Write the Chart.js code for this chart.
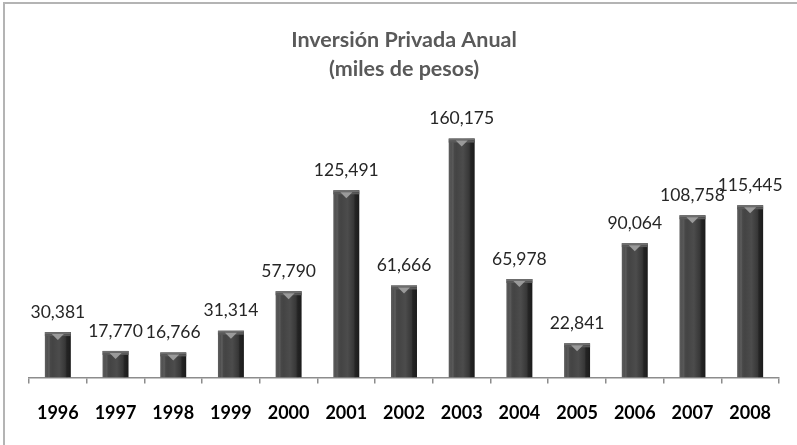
<!DOCTYPE html>
<html>
<head>
<meta charset="utf-8">
<script src="https://cdn.jsdelivr.net/npm/chart.js@4"></script>
<style>
    html, body { margin: 0; padding: 0; background: #fff; }
    #wrap { position: relative; width: 797px; height: 445px; overflow: hidden; }
    #frame {
        position: absolute; left: 3px; top: 2px; right: -10px; bottom: -10px;
        border-left: 2px solid #b4b4b4; border-top: 2px solid #b4b4b4;
    }
    canvas { position: absolute; left: 0; top: 0; }
</style>
</head>
<body>
<div id="wrap">
    <div id="frame"></div>
    <canvas id="chart" width="797" height="445"></canvas>
</div>
<script>
// Chart data
const years = ["1996", "1997", "1998", "1999", "2000", "2001", "2002", "2003", "2004", "2005", "2006", "2007", "2008"];
const investment = [30381, 17770, 16766, 31314, 57790, 125491, 61666, 160175, 65978, 22841, 90064, 108758, 115445];
const titleLines = ["Inversión Privada Anual", "(miles de pesos)"];

const BAR_PCT = 0.45;

// Horizontal gradient to give the bars a rounded look
function barGradient(context) {
    const { chart } = context;
    const xs = chart.scales && chart.scales.x;
    if (!chart.chartArea || !xs) return "#444";
    const cx = xs.getPixelForValue(context.dataIndex);
    const half = (xs.width / years.length) * BAR_PCT / 2;
    if (!Number.isFinite(cx) || !Number.isFinite(half)) return "#444";
    const g = chart.ctx.createLinearGradient(cx - half, 0, cx + half, 0);
    g.addColorStop(0, "#5e5e5e");
    g.addColorStop(0.15, "#4a4a4a");
    g.addColorStop(0.3, "#444444");
    g.addColorStop(0.55, "#4c4c4c");
    g.addColorStop(0.8, "#363636");
    g.addColorStop(0.9, "#222222");
    g.addColorStop(1, "#1a1a1a");
    return g;
}

// Bevel on top of bars plus value labels
const barDecor = {
    id: "barDecor",
    afterDatasetsDraw(chart) {
        const ctx = chart.ctx;
        const meta = chart.getDatasetMeta(0);
        ctx.save();
        meta.data.forEach((bar, i) => {
            const left = bar.x - bar.width / 2;
            const right = bar.x + bar.width / 2;
            // top bevel band
            ctx.fillStyle = "#6e6e6e";
            ctx.fillRect(left, bar.y, bar.width, 2);
            ctx.fillStyle = "#5a5a5a";
            ctx.fillRect(left, bar.y + 2, bar.width, 2);
            // small light triangle
            ctx.fillStyle = "#9a9a9a";
            ctx.beginPath();
            ctx.moveTo(bar.x - 6, bar.y + 2);
            ctx.lineTo(bar.x + 6, bar.y + 2);
            ctx.lineTo(bar.x, bar.y + 8);
            ctx.closePath();
            ctx.fill();
            // inner edge highlights
            ctx.fillStyle = "rgba(255,255,255,0.08)";
            ctx.fillRect(left + 3, bar.y + 4, 2, bar.base - bar.y - 4);
            ctx.fillStyle = "rgba(0,0,0,0.15)";
            ctx.fillRect(right - 5, bar.y + 4, 2, bar.base - bar.y - 4);

            // value label
            ctx.fillStyle = "#262626";
            ctx.font = "17.5px Lato";
            ctx.textAlign = "center";
            ctx.textBaseline = "middle";
            ctx.fillText(investment[i].toLocaleString("en-US"), bar.x, bar.y - 20);
        });
        ctx.restore();
    }
};

new Chart(document.getElementById("chart"), {
    type: "bar",
    data: {
        labels: years,
        datasets: [{
            data: investment,
            backgroundColor: barGradient,
            borderWidth: 0,
            barPercentage: BAR_PCT,
            categoryPercentage: 1
        }]
    },
    options: {
        responsive: false,
        animation: false,
        events: [],
        layout: { padding: { left: 29, right: 18, top: 0, bottom: 2 } },
        plugins: {
            legend: { display: false },
            tooltip: { enabled: false },
            title: {
                display: true,
                text: titleLines,
                color: "#595959",
                font: { family: "Lato", size: 21.5, weight: "bold", lineHeight: 1.35 },
                padding: { top: 26, bottom: 25 }
            }
        },
        scales: {
            x: {
                offset: true,
                border: { display: true, color: "#8c8c8c", width: 1.5 },
                grid: {
                    offset: true,
                    drawOnChartArea: false,
                    drawTicks: true,
                    tickLength: 6,
                    color: "#8c8c8c",
                    lineWidth: 1.5
                },
                ticks: {
                    color: "#000",
                    padding: 19,
                    font: { family: "Lato", size: 18, weight: "bold" }
                }
            },
            y: {
                display: false,
                min: 0,
                max: 180000
            }
        }
    },
    plugins: [barDecor]
});
</script>
</body>
</html>
